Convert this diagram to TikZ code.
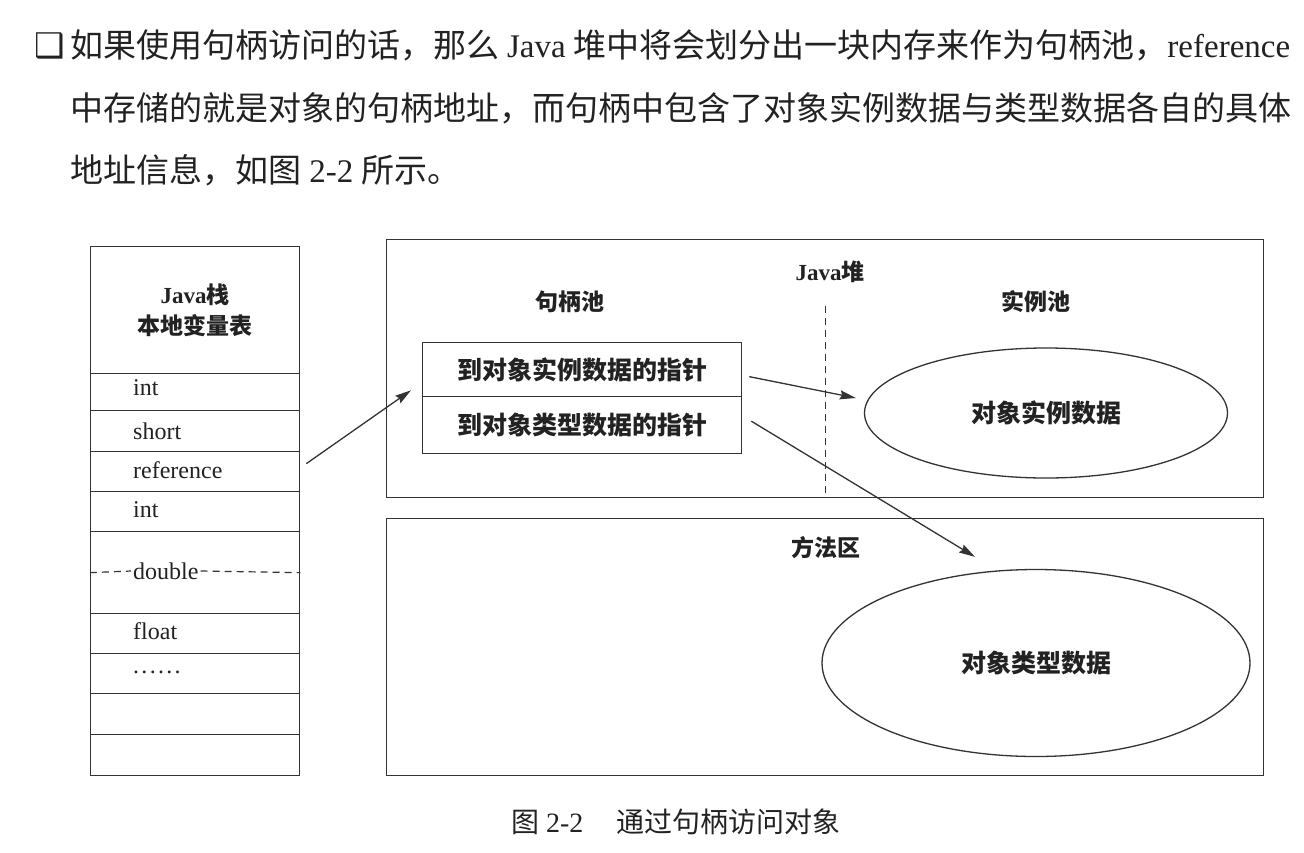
\documentclass[tikz,border=0pt]{standalone}
\usepackage{fontspec}
\setmainfont{Liberation Serif}
\newfontfamily\zh{Noto Sans CJK SC}
\newfontfamily\dv{DejaVu Sans}
\usetikzlibrary{arrows.meta,shapes.geometric}
\definecolor{ink}{HTML}{222222}
\definecolor{lin}{HTML}{333333}
\tikzset{
  ln/.style={draw=lin, line width=1.3pt},
  cellbox/.style={ln, anchor=north west, minimum width=209pt, inner sep=0pt},
  celltxt/.style={anchor=west, inner sep=0pt, text=ink, font=\fontsize{24}{28}\selectfont},
  regbox/.style={ln, anchor=north west, minimum width=877pt, inner sep=0pt},
  hbox/.style={ln, anchor=north west, minimum width=319pt, inner sep=0pt, text=ink, font=\fontsize{25}{30}\selectfont\zh\bfseries},
  oval/.style={ln, ellipse, inner sep=0pt, text=ink, font=\fontsize{25}{30}\selectfont\zh\bfseries},
  lbl/.style={inner sep=0pt, text=ink, font=\fontsize{23}{28}\selectfont\zh\bfseries},
  arr/.style={draw=lin, line width=1.3pt, -{Stealth[length=16pt,width=9pt,inset=2pt]}},
  dsh/.style={draw=lin, line width=1.2pt, dash pattern=on 7pt off 5pt},
  body/.style={anchor=west, inner sep=0pt, text=ink, font=\fontsize{33}{38}\selectfont},
}
\begin{document}
\begin{tikzpicture}[x=1pt,y=-1pt]
\useasboundingbox[fill=white] (0,0) rectangle (1304,852);

% top paragraph
\node[inner sep=0pt, text=ink, font=\fontsize{34}{34}\selectfont\dv] (bul) at (50,46) {❑};
\node[body] (l1) at (70,45) {\hbox to 1220pt{{\zh 如果使用句柄访问的话，那么} Java {\zh 堆中将会划分出一块内存来作为句柄池，}reference}};
\node[body] (l2) at (70,108) {{\zh 中存储的就是对象的句柄地址，而句柄中包含了对象实例数据与类型数据各自的具体}};
\node[body] (l3) at (70,170) {{\zh 地址信息，如图}~2-2~{\zh 所示。}};

% Java stack
\node[cellbox, minimum height=127pt, align=center, text=ink, font=\fontsize{23}{31}\selectfont\bfseries] (hdr) at (90,246) {Java{\zh 栈}\\{\zh 本地变量表}};
\node[cellbox, minimum height=37pt] (c1) at (90,373) {};
\node[cellbox, minimum height=41pt] (c2) at (90,410) {};
\node[cellbox, minimum height=40pt] (c3) at (90,451) {};
\node[cellbox, minimum height=40pt] (c4) at (90,491) {};
\node[cellbox, minimum height=82pt] (c5) at (90,531) {};
\node[cellbox, minimum height=40pt] (c6) at (90,613) {};
\node[cellbox, minimum height=40pt] (c7) at (90,653) {};
\node[cellbox, minimum height=41pt] (c8) at (90,693) {};
\node[cellbox, minimum height=41pt] (c9) at (90,734) {};
\node[celltxt] (t1) at (133,388) {int};
\node[celltxt] (t2) at (133,431) {short};
\node[celltxt] (ref) at (133,470) {reference};
\node[celltxt] (t4) at (133,510) {int};
\node[celltxt, fill=white, inner xsep=2pt] (t5) at (131,571) {double};
\node[celltxt] (t6) at (133,631) {float};
\node[celltxt] (t7) at (133,672) {.\hspace{2.3pt}.\hspace{2.3pt}.\hspace{2.3pt}.\hspace{2.3pt}.\hspace{2.3pt}.};
\draw[dsh] (c5.west) -- (t5.west);
\draw[dsh] (t5.east) -- (c5.east);

% Java heap
\node[regbox, minimum height=258pt] (heap) at (386,239) {};
\node[lbl] (heapl) at (830,272) {\rmfamily\bfseries Java{\zh 堆}};
\node[lbl] (hpool) at (570,302) {句柄池};
\node[lbl] (ipool) at (1036,302) {实例池};
\draw[dsh] ([yshift=5pt]heap.south) -- ([yshift=-66pt]heap.north);
\node[hbox, minimum height=54pt] (h1) at (422,342) {到对象实例数据的指针};
\node[hbox, minimum height=57pt] (h2) at (422,396) {到对象类型数据的指针};
\node[oval, minimum width=363pt, minimum height=130pt] (e1) at (1046,413) {对象实例数据};

% method area
\node[regbox, minimum height=257pt] (meth) at (386,518) {};
\node[lbl] (methl) at (826,548) {方法区};
\node[oval, minimum width=428pt, minimum height=187pt] (e2) at (1036,663) {对象类型数据};

% arrows
\draw[arr] ([shift={(6pt,8pt)}]c3.east) -- ([shift={(-11pt,7pt)}]h1.south west);
\draw[arr] ([shift={(7pt,-7pt)}]h1.east) -- ([shift={(-8pt,15pt)}]e1.west);
\draw[arr] ([shift={(9pt,4pt)}]h2.east) -- ([shift={(-61pt,12pt)}]e2.north);

% caption
\node[inner sep=0pt, text=ink, font=\fontsize{28}{32}\selectfont] (cap) at (676,822) {{\zh 图}~2-2\hspace{1.2em}{\zh 通过句柄访问对象}};
\end{tikzpicture}
\end{document}
